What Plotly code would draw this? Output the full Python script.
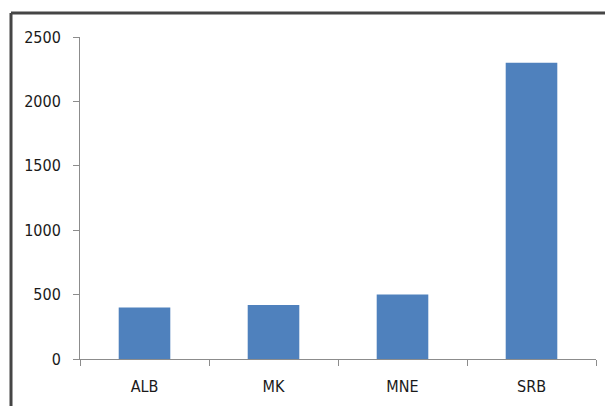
import plotly.graph_objects as go

countries = ["ALB", "MK", "MNE", "SRB"]
values = [400, 420, 500, 2300]
y_ticks = [0, 500, 1000, 1500, 2000, 2500]

W, H = 605, 406
L, R, T, B = 80, 9, 37, 47
pw, ph = W - L - R, H - T - B

fig = go.Figure(go.Bar(x=countries, y=values, marker=dict(color="#4F81BD", line=dict(width=0))))

axis_font = dict(family="DejaVu Sans Condensed, DejaVu Sans, sans-serif", size=16, color="#1a1a1a")

fig.update_layout(
    width=W, height=H,
    margin=dict(l=L, r=R, t=T, b=B, pad=0),
    paper_bgcolor="white", plot_bgcolor="white",
    bargap=0.6,
    showlegend=False,
    xaxis=dict(
        type="category", showgrid=False, zeroline=False,
        showline=True, linecolor="#8c8c8c", linewidth=1,
        ticks="outside", tickson="boundaries", ticklen=6, tickcolor="#8c8c8c",
        tickfont=axis_font, ticklabelstandoff=13,
    ),
    yaxis=dict(
        range=[0, 2500], tickvals=y_ticks, showgrid=False, zeroline=False,
        showline=True, linecolor="#8c8c8c", linewidth=1,
        ticks="outside", ticklen=6, tickcolor="#8c8c8c",
        tickfont=axis_font, ticklabelstandoff=9,
    ),
)

# dark frame around the chart area (left and top edges)
fx = (11 - L) / pw
fy = 1 + (T - 13) / ph
fy_bot = -(B + 2) / ph
fx_right = 1 + (R + 2) / pw
frame = dict(type="line", xref="paper", yref="paper", line=dict(color="#454545", width=3), layer="above")
fig.add_shape(x0=fx, x1=fx, y0=fy_bot, y1=fy, **frame)
fig.add_shape(x0=fx, x1=fx_right, y0=fy, y1=fy, **frame)

fig.write_html("out.html")
